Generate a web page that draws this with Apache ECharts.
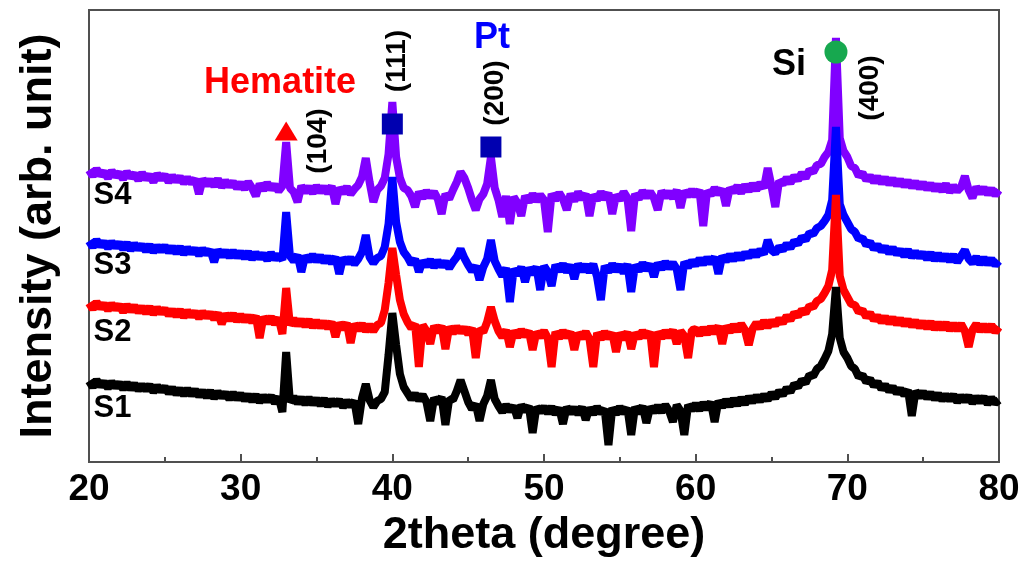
<!DOCTYPE html>
<html>
<head>
<meta charset="utf-8">
<script src="https://cdn.jsdelivr.net/npm/echarts@6/dist/echarts.min.js"></script>
<style>
  html, body { margin: 0; padding: 0; background: #fff; }
</style>
</head>
<body>
<!-- chart container -->
<div id="main" style="width: 1029px;height: 567px;"></div>
<script>
// scan grid: 20 .. 80 degree, 0.25 step
var angleStart = 20
var angleStep = 0.25

// intensity (arb. unit), one value per grid step
var s4 = [
  292, 286, 293, 287, 290, 284, 291, 286, 289, 283, 290, 285, 288, 282, 289, 283, 287, 280, 288, 283,
  287, 280, 286, 281, 285, 279, 284, 279, 283, 268, 283, 277, 282, 276, 283, 275, 281, 276, 280, 274,
  279, 273, 280, 274, 266, 278, 272, 279, 273, 277, 271, 276, 320, 274, 270, 260, 276, 270, 275, 269,
  276, 270, 275, 269, 276, 258, 274, 269, 275, 268, 273, 277, 285, 304, 280, 260, 272, 276, 284, 308,
  360, 305, 284, 274, 272, 266, 255, 270, 264, 271, 265, 270, 263, 248, 268, 263, 272, 280, 290, 284,
  274, 262, 252, 263, 268, 278, 305, 274, 262, 245, 266, 238, 265, 259, 246, 266, 260, 268, 261, 267,
  262, 230, 268, 262, 269, 263, 252, 268, 261, 270, 263, 268, 246, 267, 262, 270, 263, 269, 248, 267,
  262, 270, 264, 231, 268, 263, 271, 265, 270, 264, 252, 271, 265, 270, 264, 272, 254, 271, 266, 272,
  266, 272, 236, 271, 267, 274, 268, 273, 256, 274, 270, 276, 269, 277, 271, 278, 272, 279, 274, 294,
  276, 255, 281, 278, 284, 279, 286, 282, 289, 284, 292, 290, 297, 298, 305, 310, 322, 424, 324, 311,
  305, 296, 294, 286, 289, 282, 286, 280, 285, 279, 284, 278, 283, 277, 282, 276, 281, 275, 280, 274,
  279, 273, 278, 272, 277, 271, 278, 270, 276, 271, 275, 286, 272, 264, 275, 269, 274, 268, 273, 267,
  272
]
var s3 = [
  221, 215, 222, 216, 220, 214, 220, 215, 219, 213, 219, 212, 218, 213, 217, 211, 217, 210, 216, 211,
  216, 210, 215, 209, 215, 208, 214, 209, 213, 207, 213, 208, 212, 200, 212, 206, 211, 205, 211, 205,
  210, 204, 210, 203, 209, 204, 208, 202, 209, 203, 207, 202, 250, 206, 201, 207, 190, 206, 201, 207,
  201, 206, 200, 205, 199, 205, 188, 204, 199, 204, 198, 203, 210, 227, 205, 199, 204, 206, 215, 238,
  285, 240, 220, 210, 205, 198, 203, 190, 201, 196, 202, 195, 201, 196, 200, 194, 200, 205, 213, 204,
  197, 191, 196, 182, 195, 203, 222, 201, 193, 186, 194, 160, 193, 187, 195, 180, 194, 188, 195, 172,
  196, 190, 176, 197, 191, 198, 190, 197, 183, 198, 191, 197, 190, 198, 185, 162, 196, 190, 198, 191,
  197, 189, 198, 170, 197, 191, 199, 192, 198, 185, 199, 193, 200, 194, 199, 193, 172, 200, 195, 201,
  197, 203, 198, 204, 199, 205, 188, 206, 201, 207, 202, 208, 203, 209, 205, 211, 206, 212, 208, 222,
  212, 209, 215, 212, 218, 214, 221, 218, 225, 222, 229, 228, 234, 236, 241, 247, 262, 335, 258, 247,
  240, 233, 230, 223, 224, 217, 220, 213, 217, 211, 215, 209, 214, 208, 212, 206, 212, 205, 210, 205,
  209, 203, 209, 202, 208, 202, 207, 201, 207, 200, 206, 212, 203, 199, 205, 198, 204, 198, 203, 197,
  201
]
var s2 = [
  159, 153, 160, 154, 158, 152, 158, 153, 157, 150, 157, 151, 156, 150, 155, 149, 155, 148, 154, 149,
  153, 147, 152, 146, 152, 145, 151, 146, 150, 144, 150, 145, 149, 143, 149, 138, 148, 142, 148, 141,
  147, 141, 146, 140, 146, 124, 145, 139, 145, 138, 144, 128, 174, 137, 143, 137, 142, 136, 142, 135,
  141, 135, 140, 134, 140, 125, 139, 133, 139, 119, 138, 132, 138, 131, 137, 131, 137, 139, 152, 179,
  214, 187, 162, 148, 140, 134, 138, 95, 137, 131, 118, 136, 130, 136, 113, 135, 129, 135, 130, 134,
  128, 134, 104, 133, 130, 140, 155, 141, 131, 125, 132, 115, 131, 125, 132, 126, 131, 112, 130, 125,
  131, 124, 95, 130, 124, 131, 125, 130, 112, 129, 124, 130, 123, 95, 129, 123, 130, 124, 129, 110,
  129, 123, 130, 113, 129, 124, 131, 125, 130, 95, 130, 124, 131, 125, 132, 118, 131, 126, 104, 132,
  133, 127, 134, 128, 135, 129, 136, 118, 136, 130, 137, 131, 138, 132, 117, 133, 139, 134, 141, 135,
  141, 137, 143, 139, 146, 142, 149, 146, 152, 149, 156, 155, 161, 163, 169, 176, 192, 267, 186, 172,
  165, 158, 157, 150, 152, 145, 149, 142, 146, 140, 145, 139, 144, 138, 143, 137, 142, 136, 141, 135,
  140, 134, 140, 133, 139, 133, 139, 132, 138, 132, 138, 131, 115, 132, 138, 131, 137, 131, 137, 130,
  135
]
var s1 = [
  81, 75, 82, 76, 80, 74, 80, 75, 79, 73, 79, 73, 78, 72, 77, 72, 77, 70, 76, 71,
  75, 69, 74, 68, 73, 67, 73, 67, 72, 66, 71, 65, 71, 64, 70, 65, 69, 63, 69, 63,
  68, 62, 67, 61, 67, 60, 66, 61, 66, 59, 65, 50, 110, 60, 65, 59, 64, 58, 64, 58,
  63, 57, 63, 56, 62, 57, 62, 55, 61, 56, 61, 38, 64, 78, 62, 55, 61, 63, 70, 107,
  149, 117, 88, 75, 69, 63, 68, 62, 67, 60, 41, 64, 59, 65, 37, 63, 62, 71, 82, 71,
  60, 53, 58, 41, 58, 66, 82, 63, 56, 50, 57, 51, 56, 44, 57, 51, 56, 29, 55, 50,
  55, 49, 55, 48, 54, 38, 55, 49, 54, 48, 55, 42, 54, 48, 55, 49, 53, 17, 54, 48,
  55, 49, 54, 27, 55, 49, 56, 39, 55, 50, 56, 50, 57, 51, 40, 57, 51, 27, 57, 52,
  58, 52, 59, 53, 60, 40, 61, 55, 62, 56, 63, 57, 64, 58, 65, 60, 66, 61, 67, 62,
  69, 64, 71, 67, 74, 70, 78, 75, 82, 79, 87, 86, 93, 96, 103, 111, 128, 175, 124, 110,
  104, 96, 93, 85, 87, 80, 83, 76, 80, 73, 77, 71, 75, 69, 73, 67, 72, 46, 71, 65,
  70, 64, 69, 63, 68, 62, 67, 62, 67, 60, 66, 61, 66, 59, 65, 60, 65, 58, 64, 59,
  62
]

var sampleNames = ['S4', 'S3', 'S2', 'S1']
var sampleColors = ['#8000ff', '#0000ff', '#ff0000', '#000000']
var sampleData = [s4, s3, s2, s1]
// where each sample name sits: [2theta, intensity]
var sampleLabelPos = [[21.55, 267], [21.55, 197], [21.55, 130], [21.55, 54]]

// phase markers
var hematiteMark = [[33, 331]]
var ptMarks = [[40, 338], [46.5, 315]]
var siMark = [[69.25, 410]]

// peak annotations: [2theta, intensity, text]
var phaseLabels = [[32.6, 379, 'Hematite', '#ff0000'], [46.57, 424, 'Pt', '#0000ff'], [66.16, 397, 'Si', '#000000']]
var hklLabels = [[35.1, 321, '(104)'], [40.3, 401, '(111)'], [46.77, 369, '(200)'], [71.5, 374, '(400)']]

var xTicks = { min: 20, max: 80, interval: 10 }
var FONT = 'Liberation Sans, Arial, sans-serif'

function toPairs(vals) {
  return vals.map(function (v, i) { return [angleStart + i * angleStep, v] })
}

var series = []
sampleData.forEach(function (d, k) {
  series.push({
    name: sampleNames[k],
    type: 'line',
    data: toPairs(d),
    showSymbol: false,
    symbol: 'none',
    z: 2 + k,
    lineStyle: { color: sampleColors[k], width: 8, join: 'bevel', opacity: 1 }
  })
})

function textSeries(points, color, size, rotate) {
  return {
    type: 'scatter',
    symbolSize: 1,
    z: 10,
    itemStyle: { color: 'transparent', opacity: 1 },
    data: points.map(function (p) { return { value: [p[0], p[1]], name: p[2] } }),
    label: {
      show: true,
      position: 'inside',
      rotate: rotate,
      formatter: '{b}',
      color: color,
      opacity: 1,
      fontSize: size,
      fontWeight: 'bold',
      fontFamily: FONT
    }
  }
}

series.push(textSeries(sampleNames.map(function (n, k) {
  return [sampleLabelPos[k][0], sampleLabelPos[k][1], n]
}), '#000', 31, 0))
phaseLabels.forEach(function (p) {
  series.push(textSeries([p], p[3], 36, 0))
})
series.push(textSeries(hklLabels, '#000', 28, 90))

series.push({
  type: 'scatter', data: hematiteMark, symbol: 'triangle', symbolSize: [23, 19], z: 11,
  itemStyle: { color: '#ff0000', opacity: 1 }
})
series.push({
  type: 'scatter', data: ptMarks, symbol: 'rect', symbolSize: 21, z: 11,
  itemStyle: { color: '#0000b0', opacity: 1 }
})
series.push({
  type: 'scatter', data: siMark, symbol: 'circle', symbolSize: 23, z: 11,
  itemStyle: { color: '#17a84f', opacity: 1 }
})

var myChart = echarts.init(document.getElementById('main'))
var option = {
  animation: false,
  backgroundColor: '#fff',
  grid: {
    left: 89, right: 30, top: 10, bottom: 105,
    show: true, borderColor: '#505050', borderWidth: 2
  },
  xAxis: {
    type: 'value',
    min: xTicks.min,
    max: xTicks.max,
    interval: xTicks.interval,
    name: '2theta (degree)',
    nameLocation: 'middle',
    nameGap: 50,
    nameTextStyle: { fontSize: 45, fontWeight: 'bold', color: '#000', fontFamily: FONT },
    axisLine: { lineStyle: { color: '#505050', width: 2 } },
    axisTick: { inside: true, length: 8, lineStyle: { color: '#505050', width: 2 } },
    minorTick: { show: true, splitNumber: 2, length: 5, lineStyle: { color: '#505050', width: 2 } },
    splitLine: { show: false },
    axisLabel: { fontSize: 37, fontWeight: 'bold', color: '#000', fontFamily: FONT, margin: 9 }
  },
  yAxis: {
    type: 'value',
    min: 0,
    max: 452,
    name: 'Intensity (arb. unit)',
    nameLocation: 'middle',
    nameGap: 28,
    nameTextStyle: { fontSize: 45, fontWeight: 'bold', color: '#000', fontFamily: FONT },
    axisLine: { show: true, lineStyle: { color: '#505050', width: 2 } },
    axisTick: { show: false },
    axisLabel: { show: false },
    splitLine: { show: false }
  },
  series: series
}
myChart.setOption(option)
</script>
</body>
</html>
